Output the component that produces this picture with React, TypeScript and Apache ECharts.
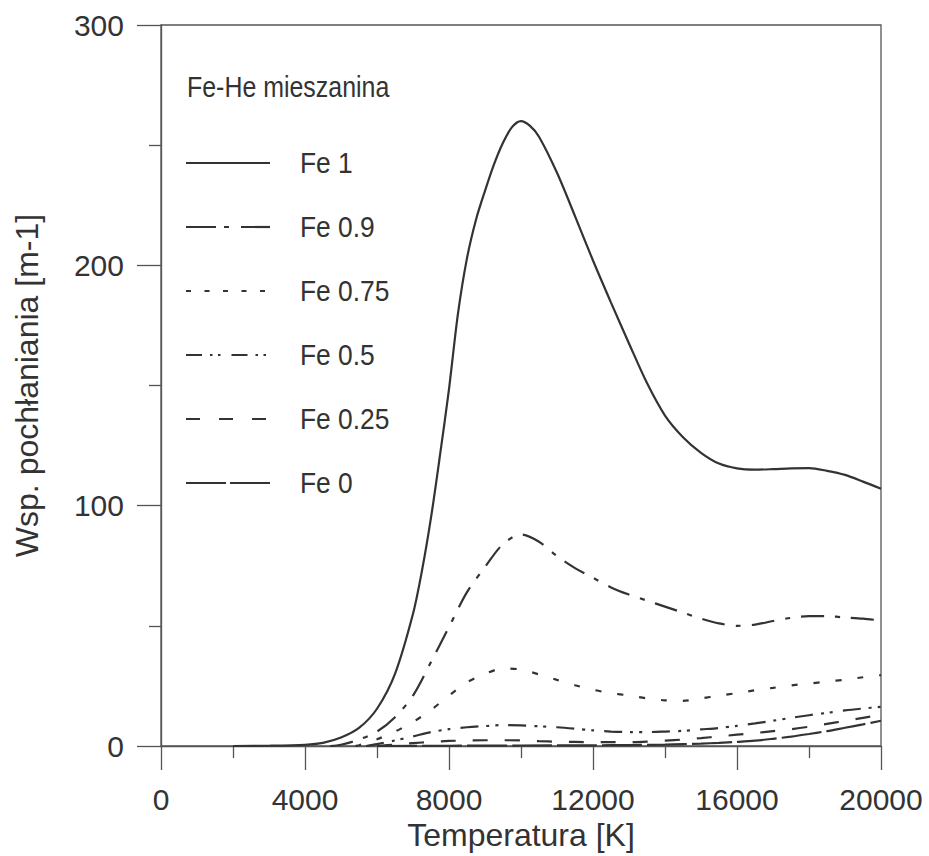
import React, { useEffect, useRef } from 'react';
import * as echarts from 'echarts';

// ---- data (temperature [K], absorption coefficient [m-1]) ----
const seriesNames = ['Fe 1', 'Fe 0.9', 'Fe 0.75', 'Fe 0.5', 'Fe 0.25', 'Fe 0'];

const fe1: [number, number][] = [
  [2000, 0], [3000, 0.1], [4000, 0.5], [4500, 1.3], [5000, 3.5], [5500, 7.5], [6000, 15.5],
  [6500, 30], [7000, 55], [7250, 73], [7500, 95], [7750, 121], [8000, 148.5], [8250, 180],
  [8500, 203], [8750, 219], [9000, 231], [9250, 242], [9500, 251], [9750, 257.5],
  [10000, 260], [10250, 258], [10500, 253.5], [11000, 238.5], [11500, 220.5], [12000, 202],
  [12500, 184.5], [13000, 167.5], [13500, 151], [14000, 137.5], [14500, 128.5],
  [15000, 122], [15500, 117.5], [16000, 115.5], [16500, 115], [17000, 115.2],
  [17500, 115.5], [18000, 115.6], [18500, 114.5], [19000, 112.8], [19500, 110], [20000, 107],
];
const fe09: [number, number][] = [
  [4700, 0], [5000, 0.5], [5500, 2.7], [6000, 6], [6500, 12], [7000, 21], [7500, 35],
  [8000, 49.5], [8500, 64], [9000, 74.5], [9500, 84], [10000, 88], [10500, 85], [11000, 79],
  [11500, 74], [12000, 70], [12500, 66], [13000, 63], [13500, 60.5], [14000, 58],
  [14500, 55.5], [15000, 53], [15500, 51], [16000, 50], [16500, 50.5], [17000, 52],
  [17500, 53.3], [18000, 54], [18500, 54], [19000, 53.5], [19500, 53], [20000, 52.2],
];
const fe075: [number, number][] = [
  [5400, 0], [5500, 0.3], [6000, 2.8], [6500, 6], [7000, 10], [7500, 15], [8000, 21],
  [8500, 26.5], [9000, 30], [9500, 32.3], [10000, 31.8], [10500, 29.8], [11000, 27.5],
  [11500, 25.3], [12000, 23.4], [12500, 22], [13000, 21], [13500, 19.8], [14000, 19],
  [14500, 18.8], [15000, 19.8], [15500, 21], [16000, 22], [16500, 23.2], [17000, 24.2],
  [17500, 25.2], [18000, 26], [18500, 26.8], [19000, 27.6], [19500, 28.6], [20000, 29.5],
];
const fe05: [number, number][] = [
  [5700, 0], [6000, 0.8], [6500, 2.3], [7000, 4], [7500, 5.8], [8000, 7], [8500, 7.8],
  [9000, 8.3], [9500, 8.7], [10000, 8.6], [10500, 8.2], [11000, 7.8], [11500, 7.2],
  [12000, 6.5], [12500, 6], [13000, 5.8], [13500, 5.8], [14000, 6], [14500, 6.3],
  [15000, 6.9], [15500, 7.5], [16000, 8.4], [16500, 9.4], [17000, 10.5], [17500, 11.7],
  [18000, 12.8], [18500, 13.8], [19000, 14.8], [19500, 15.6], [20000, 16.3],
];
const fe025: [number, number][] = [
  [6000, 0], [6500, 0.6], [7000, 1.2], [7500, 1.7], [8000, 2.1], [8500, 2.3], [9000, 2.4],
  [9500, 2.4], [10000, 2.3], [10500, 2], [11000, 1.8], [11500, 1.7], [12000, 1.6],
  [12500, 1.6], [13000, 1.6], [13500, 1.8], [14000, 2.2], [14500, 2.7], [15000, 3.3],
  [15500, 4], [16000, 4.7], [16500, 5.4], [17000, 6.2], [17500, 7], [18000, 8],
  [18500, 9.2], [19000, 10.4], [19500, 11.7], [20000, 13],
];
const fe0: [number, number][] = [
  [6000, 0], [8000, 0.1], [10000, 0.2], [12000, 0.3], [13000, 0.4], [14000, 0.6],
  [14500, 0.8], [15000, 1], [15500, 1.3], [16000, 1.7], [16500, 2.2], [17000, 3],
  [17500, 3.9], [18000, 5], [18500, 6.2], [19000, 7.6], [19500, 9], [20000, 10.5],
];
const seriesData = [fe1, fe09, fe075, fe05, fe025, fe0];

const xMin = 0, xMax = 20000, xStep = 4000;
const yMin = 0, yMax = 300, yStep = 100;
const xTitle = 'Temperatura [K]';
const yTitle = 'Wsp. pochłaniania [m-1]';
const legendTitle = 'Fe-He mieszanina';

// ---- styles ----
const INK = '#333333';
const AXIS = '#555555';
const FONT = '"Liberation Sans", Arial, Helvetica, sans-serif';
const plotDash: (number[] | 'solid')[] = [
  'solid', [23, 11, 5, 11], [6, 16], [18, 8, 3, 6, 3, 10], [15, 17], [40, 5],
];
const legendDash: (number[] | null)[] = [
  null, [30, 8, 5, 12], [5, 13.5], [16, 8, 2.5, 5.5, 2.5, 11], [14, 19], [40, 4],
];

export default function App() {
  const ref = useRef<HTMLDivElement>(null);
  useEffect(() => {
    if (!ref.current) return;
    const chart = echarts.init(ref.current, undefined, { renderer: 'svg' });

    const legendTop = 163;
    const legendStep = 64;
    const graphic: any[] = [
      {
        type: 'text', x: 187, y: 87, scaleX: 0.86, silent: true,
        style: {
          text: legendTitle, fill: INK, fontSize: 29, fontFamily: FONT,
          textVerticalAlign: 'middle', verticalAlign: 'middle', textAlign: 'left', align: 'left',
        },
      },
    ];
    seriesNames.forEach((name, i) => {
      const y = legendTop + i * legendStep;
      graphic.push({
        type: 'line', silent: true,
        shape: { x1: 186, y1: y, x2: 270, y2: y },
        style: { stroke: INK, lineWidth: 2.2, lineDash: legendDash[i] || undefined },
      });
      graphic.push({
        type: 'text', x: 300, y, scaleX: 0.91, silent: true,
        style: {
          text: name, fill: INK, fontSize: 29, fontFamily: FONT,
          textVerticalAlign: 'middle', verticalAlign: 'middle', textAlign: 'left', align: 'left',
        },
      });
    });

    const plain = (v: number) => String(v);

    chart.setOption({
      animation: false,
      backgroundColor: '#ffffff',
      grid: {
        left: 161, right: 48, top: 25, bottom: 110,
        show: true, borderColor: AXIS, borderWidth: 1.3, backgroundColor: 'transparent',
      },
      xAxis: {
        type: 'value', min: xMin, max: xMax, interval: xStep,
        name: xTitle, nameLocation: 'middle', nameGap: 71,
        nameTextStyle: { fontSize: 32, color: INK, fontFamily: FONT },
        axisLine: { show: true, lineStyle: { color: AXIS, width: 1.3 } },
        axisTick: { show: true, inside: false, length: 24, lineStyle: { color: AXIS, width: 1.3 } },
        minorTick: { show: true, splitNumber: 2, length: 12, lineStyle: { color: AXIS, width: 1.3 } },
        axisLabel: { fontSize: 30, color: INK, fontFamily: FONT, margin: 38, formatter: plain },
        splitLine: { show: false },
        minorSplitLine: { show: false },
      },
      yAxis: {
        type: 'value', min: yMin, max: yMax, interval: yStep,
        name: yTitle, nameLocation: 'middle', nameGap: 118,
        nameTextStyle: { fontSize: 32, color: INK, fontFamily: FONT },
        axisLine: { show: true, lineStyle: { color: AXIS, width: 1.3 } },
        axisTick: { show: true, inside: false, length: 24, lineStyle: { color: AXIS, width: 1.3 } },
        minorTick: { show: true, splitNumber: 2, length: 12, lineStyle: { color: AXIS, width: 1.3 } },
        axisLabel: { fontSize: 30, color: INK, fontFamily: FONT, margin: 37, formatter: plain },
        splitLine: { show: false },
        minorSplitLine: { show: false },
      },
      series: seriesNames.map((name, i) => ({
        name,
        type: 'line',
        data: seriesData[i],
        showSymbol: false,
        symbol: 'none',
        smooth: 0.3,
        lineStyle: { color: INK, width: 2.2, type: plotDash[i] },
        z: 10 - i,
      })),
      graphic,
    });

    return () => chart.dispose();
  }, []);

  return (
    <div
      ref={ref}
      style={{ position: 'fixed', left: 0, top: 0, width: 929, height: 856, background: '#fff' }}
    />
  );
}
